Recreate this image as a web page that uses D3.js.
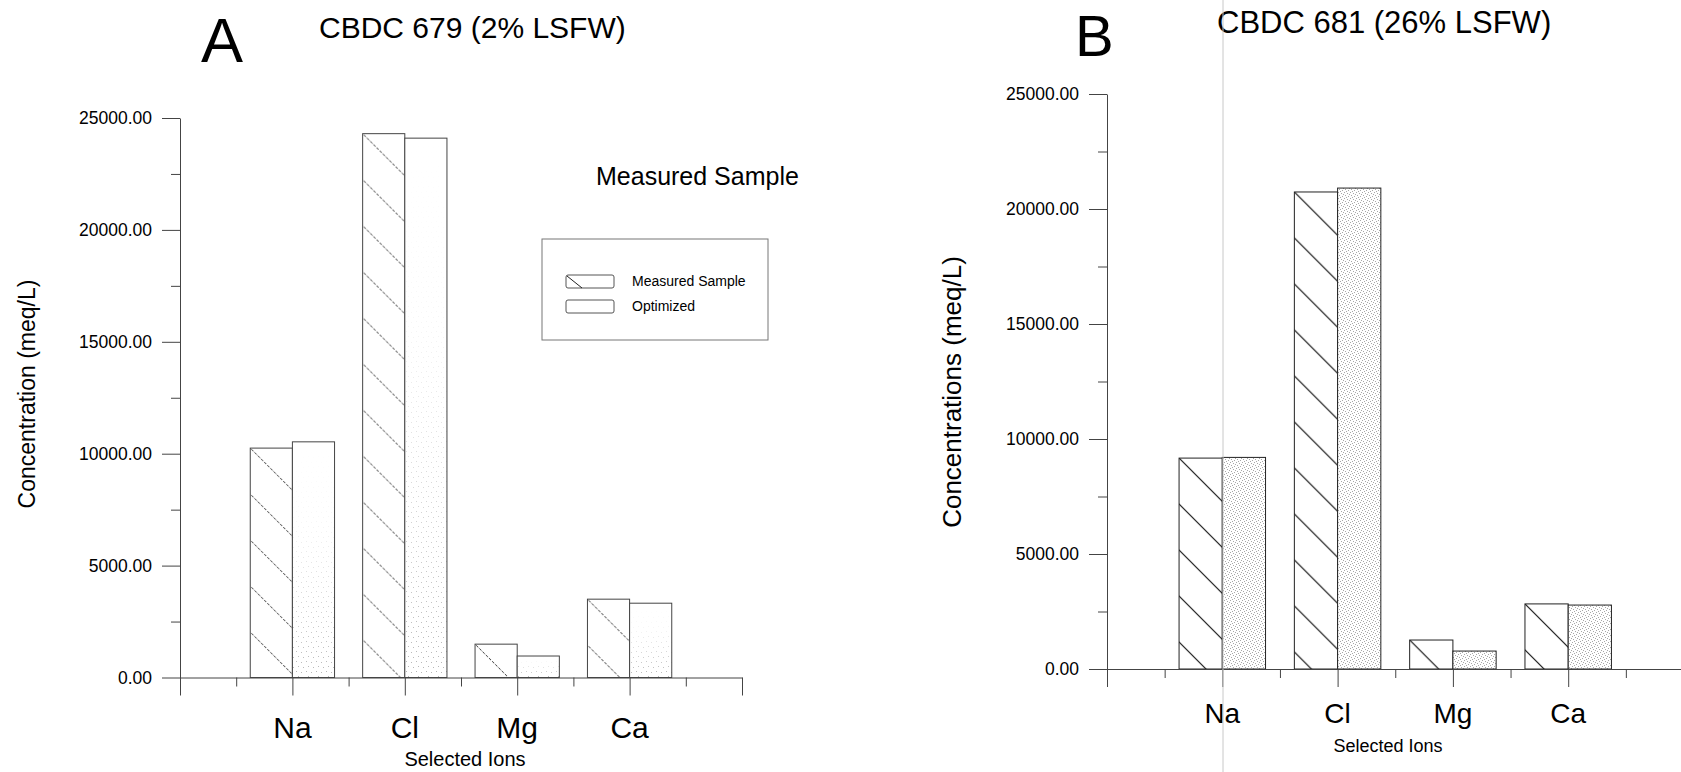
<!DOCTYPE html>
<html>
<head>
<meta charset="utf-8">
<script src="https://d3js.org/d3.v7.min.js"></script>
<style>
  body { margin: 0; background: #fff; }
  svg { display: block; font-family: "Liberation Sans", Arial, sans-serif; }
</style>
</head>
<body>
<div class="vis"></div>
<script>
  // ions on the x axis, one slot each
  var ions = ["Na", "Cl", "Mg", "Ca"];
  var series = ["Measured Sample", "Optimized"];

  // panel A : CBDC 679 (2% LSFW), concentrations in meq/L
  var measuredA = [10250, 24300, 1490, 3500];
  var optimizedA = [10530, 24100, 960, 3320];

  // panel B : CBDC 681 (26% LSFW)
  var measuredB = [9170, 20740, 1260, 2830];
  var optimizedB = [9200, 20910, 780, 2780];

  var majorTicks = [0, 5000, 10000, 15000, 20000, 25000];
  var minorTicks = [2500, 7500, 12500, 17500, 22500];
  var slotTicks = [0, 1, 2, 3, 4, 5];
  var halfTicks = [0.5, 1.5, 2.5, 3.5, 4.5];

  var W = 1681, H = 772;
  var svg = d3.select('.vis').append('svg')
    .attr('width', W)
    .attr('height', H);
  var defs = svg.append('defs');

  // stipple tiles for the "Optimized" bars
  function stipple(id, size, dots, color) {
    var pat = defs.append('pattern')
      .attr('id', id)
      .attr('patternUnits', 'userSpaceOnUse')
      .attr('width', size)
      .attr('height', size);
    dots.forEach(function (d) {
      pat.append('rect')
        .attr('x', d[0]).attr('y', d[1])
        .attr('width', 1).attr('height', 1)
        .attr('fill', color);
    });
  }
  stipple('dotsA', 10, [[1, 2], [6, 1], [3, 7], [8, 6]], '#b5b5b5');
  stipple('dotsB', 6, [[0, 0], [3, 1], [1, 3], [4, 4], [5, 2], [2, 5]], '#a8a8a8');

  // panel A stipple fades out towards the top of each bar
  var grad = defs.append('linearGradient')
    .attr('id', 'fadeA')
    .attr('x1', 0).attr('y1', 0).attr('x2', 0).attr('y2', 1);
  grad.append('stop').attr('offset', 0).attr('stop-color', 'black');
  grad.append('stop').attr('offset', 0.35).attr('stop-color', '#222');
  grad.append('stop').attr('offset', 1).attr('stop-color', 'white');
  defs.append('mask')
    .attr('id', 'maskA')
    .attr('maskUnits', 'objectBoundingBox')
    .attr('maskContentUnits', 'objectBoundingBox')
    .append('rect')
    .attr('width', 1).attr('height', 1)
    .attr('fill', 'url(#fadeA)');

  function drawPanel(p) {
    var g = svg.append('g');
    var x = d3.scaleLinear().domain([0, 5]).range([p.left, p.right]);
    var y = d3.scaleLinear().domain([0, 25000]).range([p.bottom, p.top]);
    var bw = (x(1) - x(0)) * 0.375;
    var hs = p.hatch;

    // one hatch pattern per bar, anchored at the bar's top-left corner
    p.measured.forEach(function (v, i) {
      var pat = defs.append('pattern')
        .attr('id', 'hatch' + p.name + i)
        .attr('patternUnits', 'userSpaceOnUse')
        .attr('x', x(i + 1) - bw)
        .attr('y', y(v))
        .attr('width', hs)
        .attr('height', hs);
      pat.append('path')
        .attr('d', 'M-2,-2L' + (hs + 2) + ',' + (hs + 2) +
          'M' + (-hs - 2) + ',-2L2,' + (hs + 2) +
          'M' + (hs - 2) + ',-2L' + (2 * hs + 2) + ',' + (hs + 2))
        .attr('stroke', p.hatchColor)
        .attr('stroke-width', p.hatchWidth)
        .attr('stroke-dasharray', p.hatchDash)
        .attr('fill', 'none');
    });

    // measured bars
    g.selectAll('.meas')
      .data(p.measured)
      .join('rect')
      .attr('class', 'meas')
      .attr('x', function (d, i) { return x(i + 1) - bw; })
      .attr('y', function (d) { return y(d); })
      .attr('width', bw)
      .attr('height', function (d) { return y(0) - y(d); })
      .attr('fill', function (d, i) { return 'url(#hatch' + p.name + i + ')'; })
      .attr('stroke', p.barStroke)
      .attr('stroke-width', 1);

    // optimized bars
    g.selectAll('.opt')
      .data(p.optimized)
      .join('rect')
      .attr('class', 'opt')
      .attr('x', function (d, i) { return x(i + 1); })
      .attr('y', function (d) { return y(d); })
      .attr('width', bw)
      .attr('height', function (d) { return y(0) - y(d); })
      .attr('fill', '#fff');
    g.selectAll('.optdots')
      .data(p.optimized)
      .join('rect')
      .attr('class', 'optdots')
      .attr('x', function (d, i) { return x(i + 1); })
      .attr('y', function (d) { return y(d); })
      .attr('width', bw)
      .attr('height', function (d) { return y(0) - y(d); })
      .attr('fill', 'url(#' + p.dots + ')')
      .attr('mask', p.mask);
    g.selectAll('.optline')
      .data(p.optimized)
      .join('rect')
      .attr('class', 'optline')
      .attr('x', function (d, i) { return x(i + 1); })
      .attr('y', function (d) { return y(d); })
      .attr('width', bw)
      .attr('height', function (d) { return y(0) - y(d); })
      .attr('fill', 'none')
      .attr('stroke', p.barStroke)
      .attr('stroke-width', 1);

    // y axis
    var yAxis = g.append('g')
      .attr('transform', 'translate(' + x(0) + ',0)')
      .call(d3.axisLeft(y).tickValues(majorTicks).tickSize(18).tickSizeOuter(0)
        .tickPadding(10).tickFormat(d3.format('.2f')));
    g.append('g')
      .attr('transform', 'translate(' + x(0) + ',0)')
      .call(d3.axisLeft(y).tickValues(minorTicks).tickSize(9).tickSizeOuter(0).tickFormat(''))
      .select('.domain').remove();
    yAxis.selectAll('text')
      .attr('font-family', '"Liberation Sans", Arial, sans-serif')
      .attr('font-size', 17.5)
      .attr('fill', '#000');

    // x axis, long ticks between slots, short ones half way
    g.append('g')
      .attr('transform', 'translate(0,' + y(0) + ')')
      .call(d3.axisBottom(x).tickValues(slotTicks).tickSize(18).tickSizeOuter(0).tickFormat(''));
    g.append('g')
      .attr('transform', 'translate(0,' + y(0) + ')')
      .call(d3.axisBottom(x).tickValues(halfTicks).tickSize(9).tickSizeOuter(0).tickFormat(''))
      .select('.domain').remove();
    g.selectAll('.domain, .tick line').attr('stroke', '#444');

    g.selectAll('.ion')
      .data(ions)
      .join('text')
      .attr('class', 'ion')
      .attr('x', function (d, i) { return x(i + 1); })
      .attr('y', y(0) + p.ionDrop)
      .attr('text-anchor', 'middle')
      .attr('font-size', p.ionSize)
      .text(function (d) { return d; });

    g.append('text')
      .attr('x', p.xTitle[0])
      .attr('y', p.xTitle[1])
      .attr('text-anchor', 'middle')
      .attr('font-size', p.xTitleSize)
      .text('Selected Ions');

    g.append('text')
      .attr('transform', 'translate(' + p.yTitle[0] + ',' + p.yTitle[1] + ') rotate(-90)')
      .attr('text-anchor', 'middle')
      .attr('dy', '0.35em')
      .attr('font-size', p.yTitleSize)
      .text(p.yTitleText);

    g.append('text')
      .attr('x', p.letter[0])
      .attr('y', p.letter[1])
      .attr('font-size', p.letterSize)
      .text(p.name);

    g.append('text')
      .attr('x', p.title[0])
      .attr('y', p.title[1])
      .attr('font-size', p.titleSize)
      .text(p.titleText);
  }

  drawPanel({
    name: 'A', measured: measuredA, optimized: optimizedA,
    left: 180, right: 742, top: 118, bottom: 677.5,
    hatch: 46, hatchColor: '#333', hatchWidth: 1, hatchDash: '3,1.5',
    barStroke: '#444', dots: 'dotsA', mask: 'url(#maskA)',
    ionDrop: 60, ionSize: 30,
    xTitle: [465, 766], xTitleSize: 20,
    yTitle: [27, 394], yTitleSize: 23, yTitleText: 'Concentration (meq/L)',
    letter: [201, 62], letterSize: 63,
    title: [319, 38], titleSize: 30, titleText: 'CBDC 679 (2% LSFW)'
  });

  drawPanel({
    name: 'B', measured: measuredB, optimized: optimizedB,
    left: 1107, right: 1683.5, top: 94, bottom: 669,
    hatch: 46, hatchColor: '#111', hatchWidth: 1.2, hatchDash: null,
    barStroke: '#222', dots: 'dotsB', mask: null,
    ionDrop: 54, ionSize: 28,
    xTitle: [1388, 752], xTitleSize: 18,
    yTitle: [952, 392], yTitleSize: 26, yTitleText: 'Concentrations (meq/L)',
    letter: [1075, 56], letterSize: 58,
    title: [1217, 33], titleSize: 31, titleText: 'CBDC 681 (26% LSFW)'
  });

  // floating note and legend of panel A
  svg.append('text')
    .attr('x', 596).attr('y', 185)
    .attr('font-size', 25)
    .text('Measured Sample');

  var legend = svg.append('g').attr('transform', 'translate(542,239)');
  legend.append('rect')
    .attr('width', 226).attr('height', 101)
    .attr('fill', 'none').attr('stroke', '#777');
  var item = legend.selectAll('.item')
    .data(series)
    .join('g')
    .attr('class', 'item')
    .attr('transform', function (d, i) { return 'translate(24,' + (36 + i * 25) + ')'; });
  item.append('rect')
    .attr('width', 48).attr('height', 13).attr('rx', 2)
    .attr('fill', 'none').attr('stroke', '#555');
  item.filter(function (d, i) { return i === 0; })
    .append('path')
    .attr('d', 'M1,1L16,13')
    .attr('stroke', '#222');
  item.append('text')
    .attr('x', 66).attr('y', 11)
    .attr('font-size', 14)
    .text(function (d) { return d; });

  // faint scanner streak through panel B
  svg.append('line')
    .attr('x1', 1223).attr('x2', 1223)
    .attr('y1', 0).attr('y2', H)
    .attr('stroke', '#c8c8c8').attr('stroke-width', 1);
</script>
</body>
</html>
